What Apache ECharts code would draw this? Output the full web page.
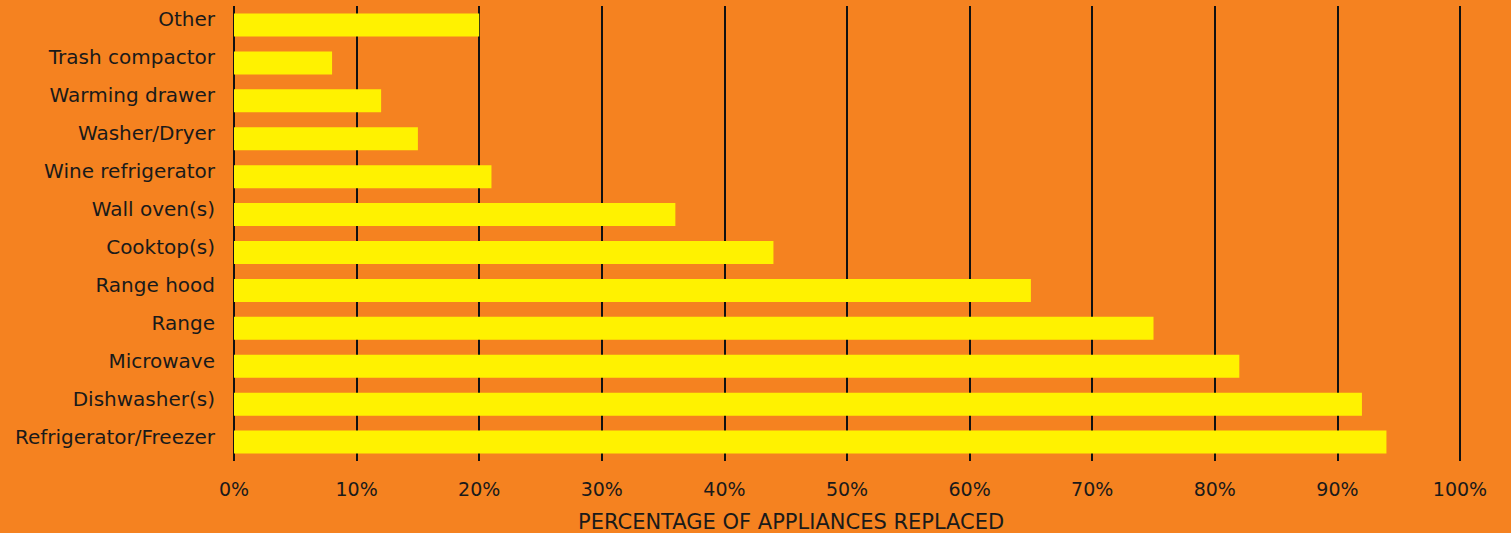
<!DOCTYPE html>
<html>
<head>
<meta charset="utf-8">
<script src="https://cdn.jsdelivr.net/npm/echarts@6/dist/echarts.min.js"></script>
<style>
html,body{margin:0;padding:0;background:#F58220;}
#c{width:1511px;height:533px;}
</style>
</head>
<body>
<div id="c"></div>
<script>
const categories = ["Other","Trash compactor","Warming drawer","Washer/Dryer","Wine refrigerator","Wall oven(s)","Cooktop(s)","Range hood","Range","Microwave","Dishwasher(s)","Refrigerator/Freezer"];
const values = [20, 8, 12, 15, 21, 36, 44, 65, 75, 82, 92, 94];
const axisTitle = "PERCENTAGE OF APPLIANCES REPLACED";

const chart = echarts.init(document.getElementById('c'), null, {renderer: 'svg'});
const font = "DejaVu Sans";
chart.setOption({
  backgroundColor: '#F58220',
  animation: false,
  title: {
    text: axisTitle,
    left: 578,
    top: 511,
    padding: 0,
    textStyle: {fontFamily: font, fontSize: 21, fontWeight: 'normal', color: '#1a1a1a'}
  },
  grid: {left: 234, right: 51, top: 6, bottom: 72, containLabel: false},
  xAxis: {
    type: 'value', min: 0, max: 100, interval: 10,
    axisLine: {show: false},
    axisTick: {show: false},
    axisLabel: {formatter: '{value}%', fontFamily: font, fontSize: 19, color: '#1a1a1a', margin: 18},
    splitLine: {show: true, lineStyle: {color: '#111', width: 2}}
  },
  yAxis: {
    type: 'category', data: categories, inverse: true,
    axisLine: {show: false},
    axisTick: {show: false},
    axisLabel: {fontFamily: font, fontSize: 20, color: '#1a1a1a', margin: 19, verticalAlign: 'bottom', lineHeight: 11}
  },
  series: [{
    type: 'bar', data: values, barWidth: 23,
    itemStyle: {color: '#FFF200'}
  }]
});
</script>
</body>
</html>
